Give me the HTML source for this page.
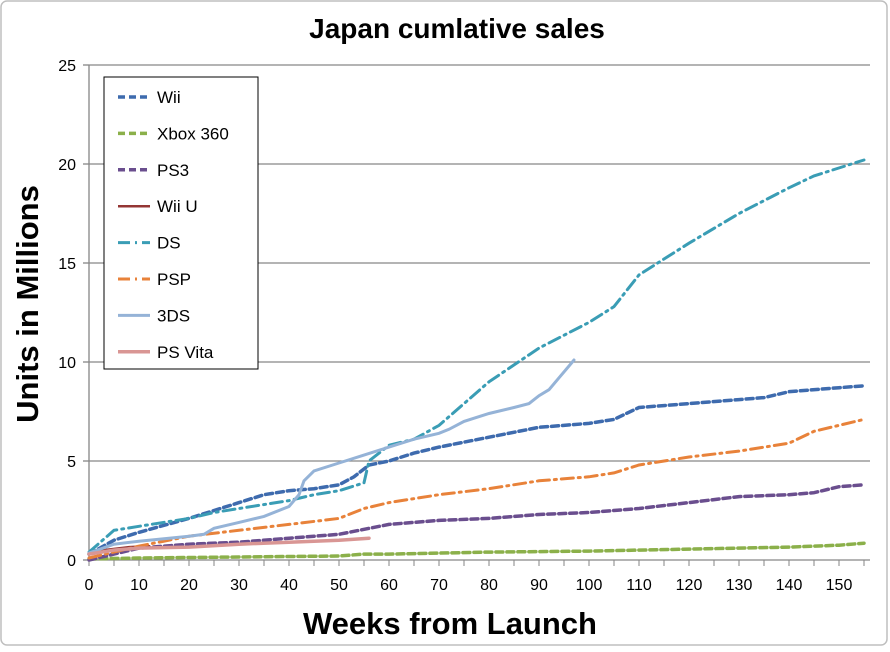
<!DOCTYPE html>
<html><head><style>
body{margin:0;background:#fff}
text{font-family:"Liberation Sans",sans-serif}
</style></head><body>
<svg width="890" height="647" xmlns="http://www.w3.org/2000/svg">
<rect x="1" y="1" width="886" height="644" rx="6" fill="#fff" stroke="#bfbfbf" stroke-width="1.5"/>
<text x="457" y="38" font-size="28" font-weight="bold" text-anchor="middle">Japan cumlative sales</text>
<g stroke="#868686" stroke-width="1.3">
<line x1="89" y1="65" x2="870" y2="65"/><line x1="89" y1="164" x2="870" y2="164"/>
<line x1="89" y1="263" x2="870" y2="263"/><line x1="89" y1="362" x2="870" y2="362"/>
<line x1="89" y1="461" x2="870" y2="461"/><line x1="89" y1="560" x2="870" y2="560"/>
<line x1="89" y1="65" x2="89" y2="560"/>
<line x1="83" y1="65" x2="89" y2="65"/><line x1="83" y1="164" x2="89" y2="164"/><line x1="83" y1="263" x2="89" y2="263"/><line x1="83" y1="362" x2="89" y2="362"/><line x1="83" y1="461" x2="89" y2="461"/><line x1="83" y1="560" x2="89" y2="560"/>
</g>
<path stroke="#868686" stroke-width="1" d="M89 560v6M114 560v6M139 560v6M164 560v6M189 560v6M214 560v6M239 560v6M264 560v6M289 560v6M314 560v6M339 560v6M364 560v6M389 560v6M414 560v6M439 560v6M464 560v6M489 560v6M514 560v6M539 560v6M564 560v6M589 560v6M614 560v6M639 560v6M664 560v6M689 560v6M714 560v6M739 560v6M764 560v6M789 560v6M814 560v6M839 560v6M864 560v6"/>
<g font-size="16" text-anchor="end">
<text x="76" y="71">25</text><text x="76" y="170">20</text><text x="76" y="269">15</text><text x="76" y="368">10</text><text x="76" y="467">5</text><text x="76" y="566">0</text>
</g>
<g font-size="16" text-anchor="middle">
<text x="89" y="590">0</text><text x="139" y="590">10</text><text x="189" y="590">20</text><text x="239" y="590">30</text><text x="289" y="590">40</text><text x="339" y="590">50</text><text x="389" y="590">60</text><text x="439" y="590">70</text><text x="489" y="590">80</text><text x="539" y="590">90</text><text x="589" y="590">100</text><text x="639" y="590">110</text><text x="689" y="590">120</text><text x="739" y="590">130</text><text x="789" y="590">140</text><text x="839" y="590">150</text>
</g>
<text x="450" y="634" font-size="31" font-weight="bold" text-anchor="middle">Weeks from Launch</text>
<text transform="translate(38,304) rotate(-90)" font-size="31" font-weight="bold" text-anchor="middle">Units in Millions</text>
<g fill="none" stroke-linecap="round">
<polyline stroke="#8BB04A" stroke-width="3.5" stroke-dasharray="7,4" points="89,559 139,558 339,556 364,554.1 389,554.1 489,552.1 589,551.1 689,549.1 789,547.1 839,545.2 864,543.2"/>
<polyline stroke="#6A4E8E" stroke-width="3.5" stroke-dasharray="7,4" points="89,560 114,554.1 139,548.1 189,544.2 239,542.2 289,538.2 339,534.3 389,524.4 439,520.4 489,518.4 539,514.5 589,512.5 639,508.5 689,502.6 739,496.6 789,494.7 814,492.7 839,486.7 864,484.8"/>
<polyline stroke="#943634" stroke-width="2.5" points="89,554.1 104,550.1 129,547.1 149,546.1"/>
<polyline stroke="#E8823A" stroke-width="3" stroke-dasharray="12,5,2,5" points="89,558 139,546.1 189,536.2 239,530.3 289,524.4 339,518.4 364,508.5 389,502.6 439,494.7 489,488.7 539,480.8 589,476.8 614,472.9 639,465 689,457 739,451.1 789,443.2 814,431.3 864,419.4"/>
<polyline stroke="#3E6BAE" stroke-width="3.5" stroke-dasharray="7,4" points="89,554.1 114,540.2 139,532.3 189,518.4 214,510.5 239,502.6 264,494.7 289,490.7 314,488.7 339,484.8 354,476.8 369,465 389,461 414,453.1 439,447.1 489,437.2 539,427.3 589,423.4 614,419.4 639,407.5 689,403.6 739,399.6 764,397.6 789,391.7 839,387.7 864,385.8"/>
<polyline stroke="#3A9DB5" stroke-width="3" stroke-dasharray="12,5,2,5" points="89,552.1 114,530.3 139,526.3 189,518.4 214,512.5 239,508.5 289,500.6 314,494.7 339,490.7 364,482.8 369,461 389,445.2 414,439.2 439,425.4 489,381.8 539,348.1 589,322.4 614,306.6 639,274.9 664,259 689,243.2 739,213.5 789,187.8 814,175.9 864,160"/>
<polyline stroke="#95B3D7" stroke-width="3" points="89,553.1 114,544.2 139,541.2 189,536.2 204,534.3 214,528.3 239,522.4 264,516.4 289,506.5 299,494.7 304,480.8 314,470.9 339,463 364,455.1 389,447.1 414,439.2 439,433.3 449,429.3 464,421.4 489,413.5 514,407.5 529,403.6 539,395.7 549,389.7 559,377.8 569,366 574,360"/>
<polyline stroke="#D99694" stroke-width="3.5" points="89,554.1 114,550.1 139,548.1 189,547.1 239,544.2 289,542.2 339,540.2 369,538.2"/>
</g>
<rect x="104" y="77" width="154" height="292" fill="#fff" stroke="#000" stroke-width="1"/>
<g font-size="17">
<line x1="118" y1="97" x2="150" y2="97" stroke="#3E6BAE" stroke-width="3.5" stroke-dasharray="7,4"/><text x="157" y="103">Wii</text>
<line x1="118" y1="133.4" x2="150" y2="133.4" stroke="#8BB04A" stroke-width="3.5" stroke-dasharray="7,4"/><text x="157" y="139.4">Xbox 360</text>
<line x1="118" y1="169.8" x2="150" y2="169.8" stroke="#6A4E8E" stroke-width="3.5" stroke-dasharray="7,4"/><text x="157" y="175.8">PS3</text>
<line x1="118" y1="206.2" x2="150" y2="206.2" stroke="#943634" stroke-width="2.5"/><text x="157" y="212.2">Wii U</text>
<line x1="118" y1="242.6" x2="150" y2="242.6" stroke="#3A9DB5" stroke-width="3" stroke-dasharray="12,5,2,5"/><text x="157" y="248.6">DS</text>
<line x1="118" y1="279" x2="150" y2="279" stroke="#E8823A" stroke-width="3" stroke-dasharray="12,5,2,5"/><text x="157" y="285">PSP</text>
<line x1="118" y1="315.4" x2="150" y2="315.4" stroke="#95B3D7" stroke-width="3"/><text x="157" y="321.4">3DS</text>
<line x1="118" y1="351.8" x2="150" y2="351.8" stroke="#D99694" stroke-width="3.5"/><text x="157" y="357.8">PS Vita</text>
</g>
</svg>
</body></html>
